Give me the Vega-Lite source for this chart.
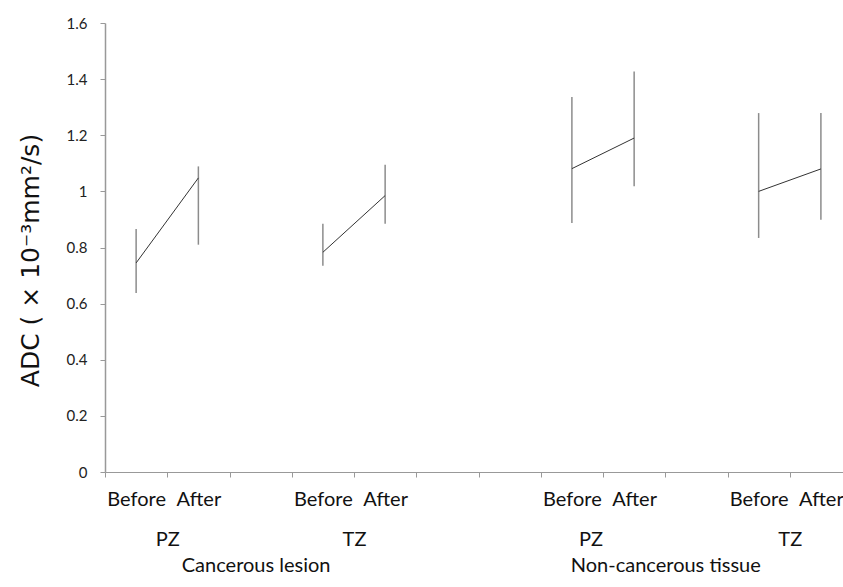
{
  "$schema": "https://vega.github.io/schema/vega-lite/v6.json",
  "width": 738,
  "height": 449,
  "autosize": {"type": "none"},
  "padding": {"left": 105, "top": 23, "right": 0, "bottom": 115},
  "background": "white",
  "config": {"view": {"stroke": null}, "font": "Lato"},
  "data": {
    "values": [
      {"group": "Cancerous lesion PZ", "phase": "Before", "pos": 0.5, "mean": 0.745, "lo": 0.638, "hi": 0.866},
      {"group": "Cancerous lesion PZ", "phase": "After", "pos": 1.5, "mean": 1.048, "lo": 0.81, "hi": 1.089},
      {"group": "Cancerous lesion TZ", "phase": "Before", "pos": 3.5, "mean": 0.783, "lo": 0.735, "hi": 0.885},
      {"group": "Cancerous lesion TZ", "phase": "After", "pos": 4.5, "mean": 0.985, "lo": 0.885, "hi": 1.095},
      {"group": "Non-cancerous tissue PZ", "phase": "Before", "pos": 7.5, "mean": 1.081, "lo": 0.887, "hi": 1.336},
      {"group": "Non-cancerous tissue PZ", "phase": "After", "pos": 8.5, "mean": 1.19, "lo": 1.018, "hi": 1.427},
      {"group": "Non-cancerous tissue TZ", "phase": "Before", "pos": 10.5, "mean": 1.0, "lo": 0.834, "hi": 1.279},
      {"group": "Non-cancerous tissue TZ", "phase": "After", "pos": 11.5, "mean": 1.08, "lo": 0.899, "hi": 1.279}
    ]
  },
  "layer": [
    {
      "mark": {"type": "rule", "color": "#8c8c8c", "strokeWidth": 1.5},
      "encoding": {
        "x": {
          "field": "pos", "type": "quantitative",
          "scale": {"domain": [0, 11.855], "nice": false, "zero": false},
          "axis": {"orient": "bottom", "values": [0, 1, 2, 3, 4, 5, 6, 7, 8, 9, 10, 11], "labels": false, "grid": false, "ticks": true, "tickSize": 5, "tickColor": "#999999", "domainColor": "#999999", "domainWidth": 1.2, "title": null}
        },
        "y": {
          "field": "lo", "type": "quantitative",
          "scale": {"domain": [0, 1.6], "nice": false, "zero": true},
          "axis": {"values": [0, 0.2, 0.4, 0.6, 0.8, 1, 1.2, 1.4, 1.6], "format": "~g", "grid": false, "tickSize": 5, "tickColor": "#999999", "domainColor": "#999999", "domainWidth": 1.5, "labelPadding": 13, "labelFont": "Lato", "labelFontSize": 15, "labelColor": "#222222", "title": "ADC ( × 10⁻³mm²/s)", "titleFont": "DejaVu Sans", "titleFontSize": 25, "titleFontWeight": "normal", "titleColor": "#111111", "titlePadding": 23, "titleY": 237}
        },
        "y2": {"field": "hi"}
      }
    },
    {
      "mark": {"type": "line", "color": "#333333", "strokeWidth": 1},
      "encoding": {
        "x": {
          "field": "pos", "type": "quantitative",
          "scale": {"domain": [0, 11.855], "nice": false, "zero": false},
          "axis": {
            "orient": "bottom",
            "values": [0.5, 1, 1.5, 2.42, 3.5, 4, 4.5, 7.5, 7.8, 8.5, 9, 10.5, 11, 11.5],
            "labelExpr": "datum.value == 2.42 ? 'Cancerous lesion' : datum.value == 9 ? 'Non-cancerous tissue' : (datum.value == 1 || datum.value == 7.8) ? 'PZ' : (datum.value == 4 || datum.value == 11) ? 'TZ' : indexof([0.5, 3.5, 7.5, 10.5], datum.value) >= 0 ? 'Before' : 'After'",
            "labelOverlap": false, "labelFlush": false, "labelBound": false, "labelLimit": 0,
            "labelFont": "Lato", "labelFontSize": 20, "labelColor": "#111111",
            "labelBaseline": "top", "labelAlign": "center",
            "labelPadding": {"condition": [
              {"test": "datum.value == 2.42 || datum.value == 9", "value": 83},
              {"test": "datum.value == 1 || datum.value == 4 || datum.value == 7.8 || datum.value == 11", "value": 57}
            ], "value": 17},
            "ticks": false, "tickSize": 0, "domain": false, "grid": false, "title": null
          }
        },
        "y": {
          "field": "mean", "type": "quantitative",
          "scale": {"domain": [0, 1.6], "nice": false, "zero": true},
          "axis": {"values": [0, 0.2, 0.4, 0.6, 0.8, 1, 1.2, 1.4, 1.6], "format": "~g", "grid": false, "tickSize": 5, "tickColor": "#999999", "domainColor": "#999999", "domainWidth": 1.5, "labelPadding": 13, "labelFont": "Lato", "labelFontSize": 15, "labelColor": "#222222", "title": "ADC ( × 10⁻³mm²/s)", "titleFont": "DejaVu Sans", "titleFontSize": 25, "titleFontWeight": "normal", "titleColor": "#111111", "titlePadding": 23, "titleY": 237}
        },
        "detail": {"field": "group", "type": "nominal"}
      }
    }
  ],
  "resolve": {"axis": {"x": "independent"}}
}
